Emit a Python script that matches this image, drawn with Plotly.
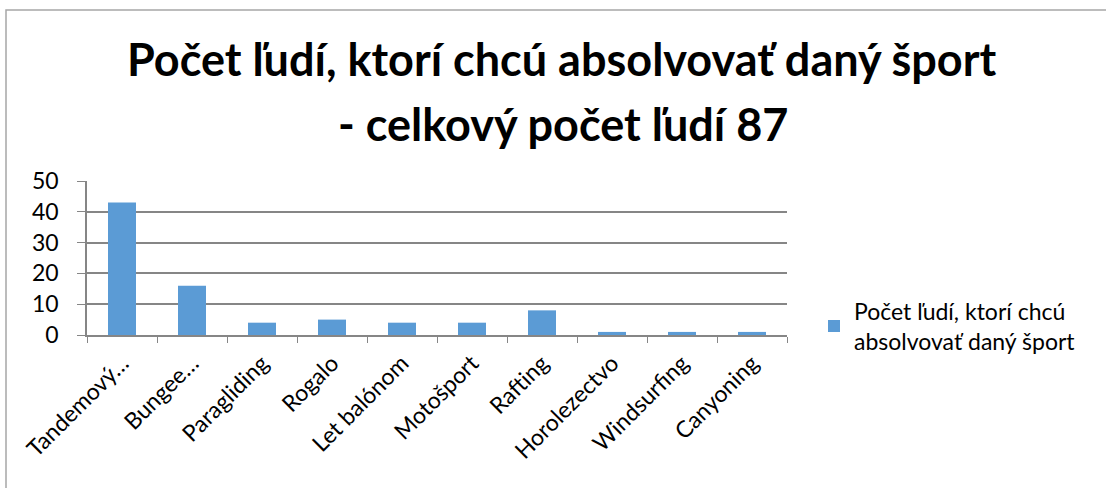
import plotly.graph_objects as go

categories = ["Tandemový…", "Bungee…", "Paragliding", "Rogalo", "Let balónom",
              "Motošport", "Rafting", "Horolezectvo", "Windsurfing", "Canyoning"]
values = [43, 16, 4, 5, 4, 4, 8, 1, 1, 1]
series_name = "Počet ľudí, ktorí chcú<br>absolvovať daný šport"
title_line1 = "Počet ľudí, ktorí chcú absolvovať daný šport"
title_line2 = "- celkový počet ľudí 87"

W, H = 1106, 488
# plot area in page pixel coordinates
PX0, PX1, PY0, PY1 = 87, 787, 181, 335
L, T, R, B = PX0, PY0, W - PX1, H - PY1
pw, ph = PX1 - PX0, PY1 - PY0

def px(x):
    return (x - PX0) / pw

def py(y):
    return (PY1 - y) / ph

FONT = "Lato"
fig = go.Figure()
fig.add_trace(go.Bar(x=categories, y=values, name=series_name,
                     marker=dict(color="#5B9BD5", line=dict(width=0))))

fig.update_layout(
    width=W, height=H,
    margin=dict(l=L, r=R, t=T, b=B, autoexpand=False),
    paper_bgcolor="white", plot_bgcolor="white",
    bargap=0.6,
    showlegend=True,
    legend=dict(x=px(814), y=py(326), xanchor="left", yanchor="middle",
                font=dict(family=FONT, size=23, color="#000000"),
                itemwidth=30),
    font=dict(family=FONT, color="#000000"),
    annotations=[
        dict(text="<b>%s</b>" % title_line1, x=px(562), y=py(59), xref="paper", yref="paper",
             xanchor="center", yanchor="middle", showarrow=False,
             font=dict(family=FONT, size=45, color="#000000")),
        dict(text="<b>%s</b>" % title_line2, x=px(563), y=py(124), xref="paper", yref="paper",
             xanchor="center", yanchor="middle", showarrow=False,
             font=dict(family=FONT, size=45, color="#000000")),
    ],
    shapes=[dict(type="rect", xref="paper", yref="paper",
                 x0=px(6), x1=px(1200), y0=py(10), y1=py(600),
                 line=dict(color="#A6A6A6", width=1.5), layer="below")],
)
fig.update_xaxes(type="category", tickangle=-45, showline=True, linecolor="#868686",
                 linewidth=1.5, ticks="outside", tickson="boundaries", ticklen=6,
                 tickcolor="#868686", tickfont=dict(family=FONT, size=23, color="#000"),
                 showgrid=False, ticklabelstandoff=4)
fig.update_yaxes(range=[0, 50], dtick=10, showline=True, linecolor="#868686",
                 linewidth=1.5, ticks="outside", ticklen=8, tickcolor="#868686",
                 gridcolor="#868686", gridwidth=1.5, zeroline=False,
                 tickfont=dict(family=FONT, size=23, color="#000"), ticklabelstandoff=14)

fig.write_html("out.html", config={"displayModeBar": False},
               post_script="document.body.style.margin='0';document.body.style.overflow='hidden';")
